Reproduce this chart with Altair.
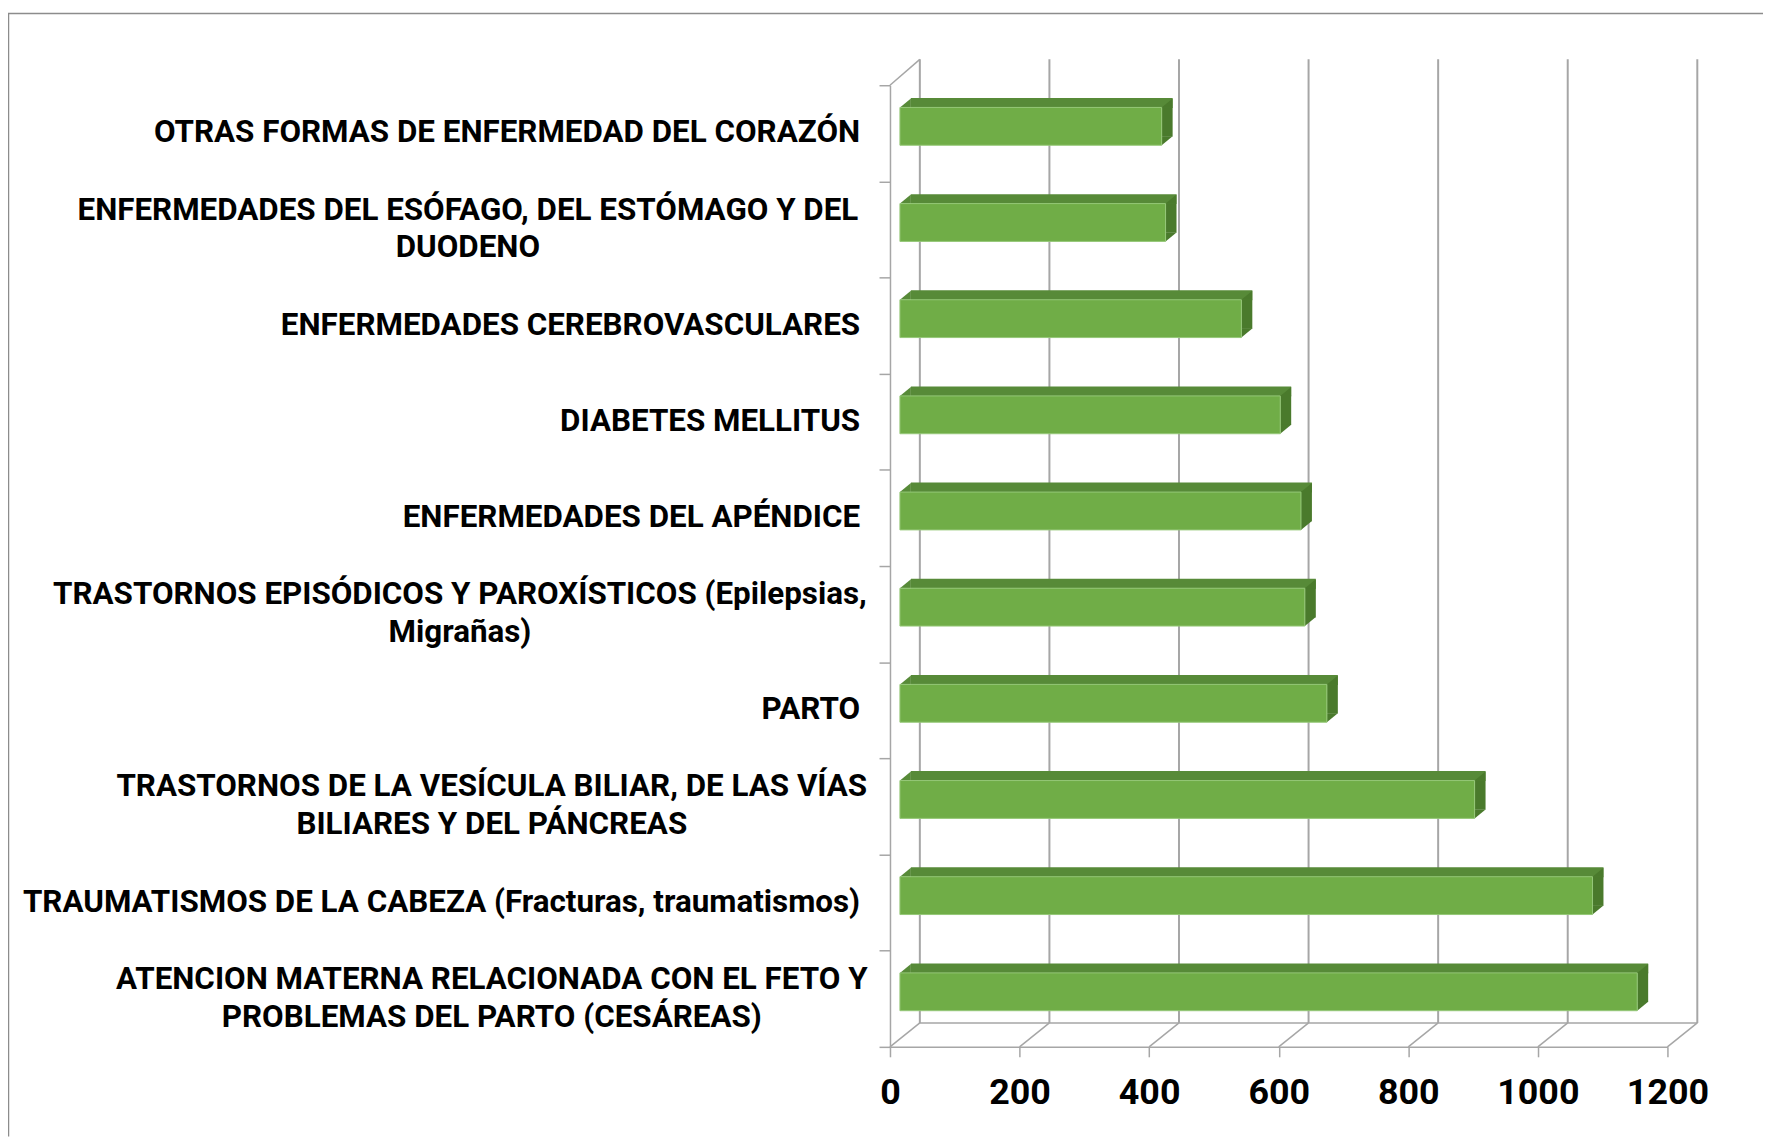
import altair as alt
import pandas as pd

# ---------------- data ----------------
labels = [
    "OTRAS FORMAS DE ENFERMEDAD DEL CORAZÓN",
    "ENFERMEDADES DEL ESÓFAGO, DEL ESTÓMAGO Y DEL\nDUODENO",
    "ENFERMEDADES CEREBROVASCULARES",
    "DIABETES MELLITUS",
    "ENFERMEDADES DEL APÉNDICE",
    "TRASTORNOS EPISÓDICOS Y PAROXÍSTICOS (Epilepsias,\nMigrañas)",
    "PARTO",
    "TRASTORNOS DE LA VESÍCULA BILIAR, DE LAS VÍAS\nBILIARES Y DEL PÁNCREAS",
    "TRAUMATISMOS DE LA CABEZA (Fracturas, traumatismos)",
    "ATENCION MATERNA RELACIONADA CON EL FETO Y\nPROBLEMAS DEL PARTO (CESÁREAS)",
]
values = [404, 410, 527, 587, 619, 625, 659, 887, 1069, 1138]
tick_values = [0, 200, 400, 600, 800, 1000, 1200]

categories = [l.replace("\n", " ") for l in labels]
df = pd.DataFrame({"cat": categories, "value": values, "label": labels})
ticks_df = pd.DataFrame({"t": tick_values})

# ---------------- layout / style ----------------
W, H = 781, 966
PL, PT = 886, 75         # padding left / top
PR, PB = 1763 - PL - W, 90
DX, DY = 30, 24          # depth of the 3-D box (pixels)
FONT = "Roboto, DejaVu Sans Condensed, sans-serif"
FS = 31.5
GRID = "#a6a6a6"
FRONT = "#70AD47"
TOP = "#578A38"
SIDE = "#4A7A2C"
# triangles for bevelled bar corners (unit = 11 px with size 484)
TRI_UP = "M0,0L1,-0.82L1,0Z"
TRI_DOWN = "M0,0L1,-0.82L0,-0.82Z"

xscale = alt.Scale(domain=[0, 1200], nice=False, zero=True)
yscale = alt.Scale(domain=categories, paddingInner=0, paddingOuter=0)

x_axis = alt.Axis(
    values=tick_values, format="d", domainColor=GRID, domainWidth=1.5,
    tickColor=GRID, tickWidth=1.5, tickSize=10, labelFont=FONT,
    labelFontSize=36, labelFontWeight="bold", labelColor="black",
    labelPadding=19, grid=False, labelFlush=False, title=None,
)
y_axis = alt.Axis(
    labels=False, domainColor=GRID, domainWidth=1.5, tickColor=GRID,
    tickWidth=1.5, tickSize=11, tickBand="extent", grid=False, title=None,
)

X = lambda f: alt.X(f, scale=xscale, axis=x_axis, title=None)
Y = lambda: alt.Y("cat:N", scale=yscale, sort=categories, axis=y_axis, title=None)

# back-wall gridlines
back_grid = alt.Chart(ticks_df).mark_rule(
    color=GRID, strokeWidth=2, xOffset=DX, x2Offset=DX
).encode(x=X("t:Q"), x2="t:Q", y=alt.value(-26), y2=alt.value(H - DY))

# floor slanted lines
floor_slant = alt.Chart(ticks_df).mark_rule(
    color=GRID, strokeWidth=1.5, x2Offset=DX
).encode(x=X("t:Q"), x2="t:Q", y=alt.value(H), y2=alt.value(H - DY))

# floor back line
floor_back = alt.Chart(ticks_df).transform_aggregate(
    tmin="min(t)", tmax="max(t)"
).mark_rule(color=GRID, strokeWidth=1.5, xOffset=DX, x2Offset=DX).encode(
    x=X("tmin:Q"), x2="tmax:Q", y=alt.value(H - DY)
)

# left wall top slant
wall_top = alt.Chart(ticks_df).transform_aggregate(
    tmin="min(t)"
).mark_rule(color=GRID, strokeWidth=1.5, x2Offset=DX).encode(
    x=X("tmin:Q"), x2="tmin:Q", y=alt.value(0), y2=alt.value(-26)
)

# outer chart frame (top and left borders)
frame_top = alt.Chart(ticks_df).transform_aggregate(n="count()").mark_rule(
    color="#8c8c8c", strokeWidth=1.5
).encode(x=alt.value(-PL), x2=alt.value(W + PR), y=alt.value(-72))
frame_left = alt.Chart(ticks_df).transform_aggregate(n="count()").mark_rule(
    color="#8c8c8c", strokeWidth=1.5
).encode(x=alt.value(-PL + 0.5), y=alt.value(-72), y2=alt.value(H + PB))

# ---- 3-D bars ----
top_face = alt.Chart(df).mark_bar(
    size=10, color=TOP, xOffset=21, x2Offset=11, yOffset=-30.5
).encode(x=X("value:Q"), y=Y())

top_corner = alt.Chart(df).transform_calculate(zero="0").mark_point(
    shape=TRI_UP, size=484, filled=True, opacity=1, strokeWidth=0,
    color=TOP, xOffset=10, yOffset=-26
).encode(x=X("zero:Q"), y=Y())

side_face = alt.Chart(df).mark_bar(
    size=29.5, color=SIDE, xOffset=10, x2Offset=21, yOffset=-11.5
).encode(x=X("value:Q"), x2="value:Q", y=Y())

side_top = alt.Chart(df).mark_point(
    shape=TRI_UP, size=484, filled=True, opacity=1, strokeWidth=0,
    color=SIDE, xOffset=10, yOffset=-26
).encode(x=X("value:Q"), y=Y())
side_bottom = alt.Chart(df).mark_point(
    shape=TRI_DOWN, size=484, filled=True, opacity=1, strokeWidth=0,
    color=SIDE, xOffset=10, yOffset=12
).encode(x=X("value:Q"), y=Y())

front_face = alt.Chart(df).mark_bar(
    size=38, color=FRONT, xOffset=10, x2Offset=10, yOffset=-7,
    stroke="#95c878", strokeWidth=1,
).encode(x=X("value:Q"), y=Y())

# ---- category labels ----
LABEL_RIGHT = 864 - 8 - PL
single = alt.Chart(df).transform_filter(
    "indexof(datum.label, '\\n') < 0"
).mark_text(
    align="right", baseline="middle", font=FONT, fontSize=FS,
    fontWeight="bold", color="black"
).encode(x=alt.value(LABEL_RIGHT), y=Y(), text="label:N")

two_line_centers = {1: 470, 5: 462, 7: 494, 9: 494}   # page x of block centres
multi = []
for i, cx in two_line_centers.items():
    multi.append(
        alt.Chart(df).transform_filter(
            alt.datum.cat == categories[i]
        ).mark_text(
            align="center", baseline="middle", font=FONT, fontSize=FS,
            fontWeight="bold", color="black", lineBreak="\n", lineHeight=38,
            dy=-19,
        ).encode(x=alt.value(cx - 8 - PL), y=Y(), text="label:N")
    )

chart = alt.layer(
    frame_top, frame_left, back_grid, floor_slant, floor_back, wall_top,
    top_face, top_corner, side_face, side_top, side_bottom, front_face,
    single, *multi
).properties(
    width=W, height=H,
    padding={"left": PL, "top": PT, "right": PR, "bottom": PB},
    autosize=alt.AutoSizeParams(type="none"),
    background="white",
).configure_view(stroke=None)

chart.save("out.html", embed_options={"renderer": "svg", "actions": False})
